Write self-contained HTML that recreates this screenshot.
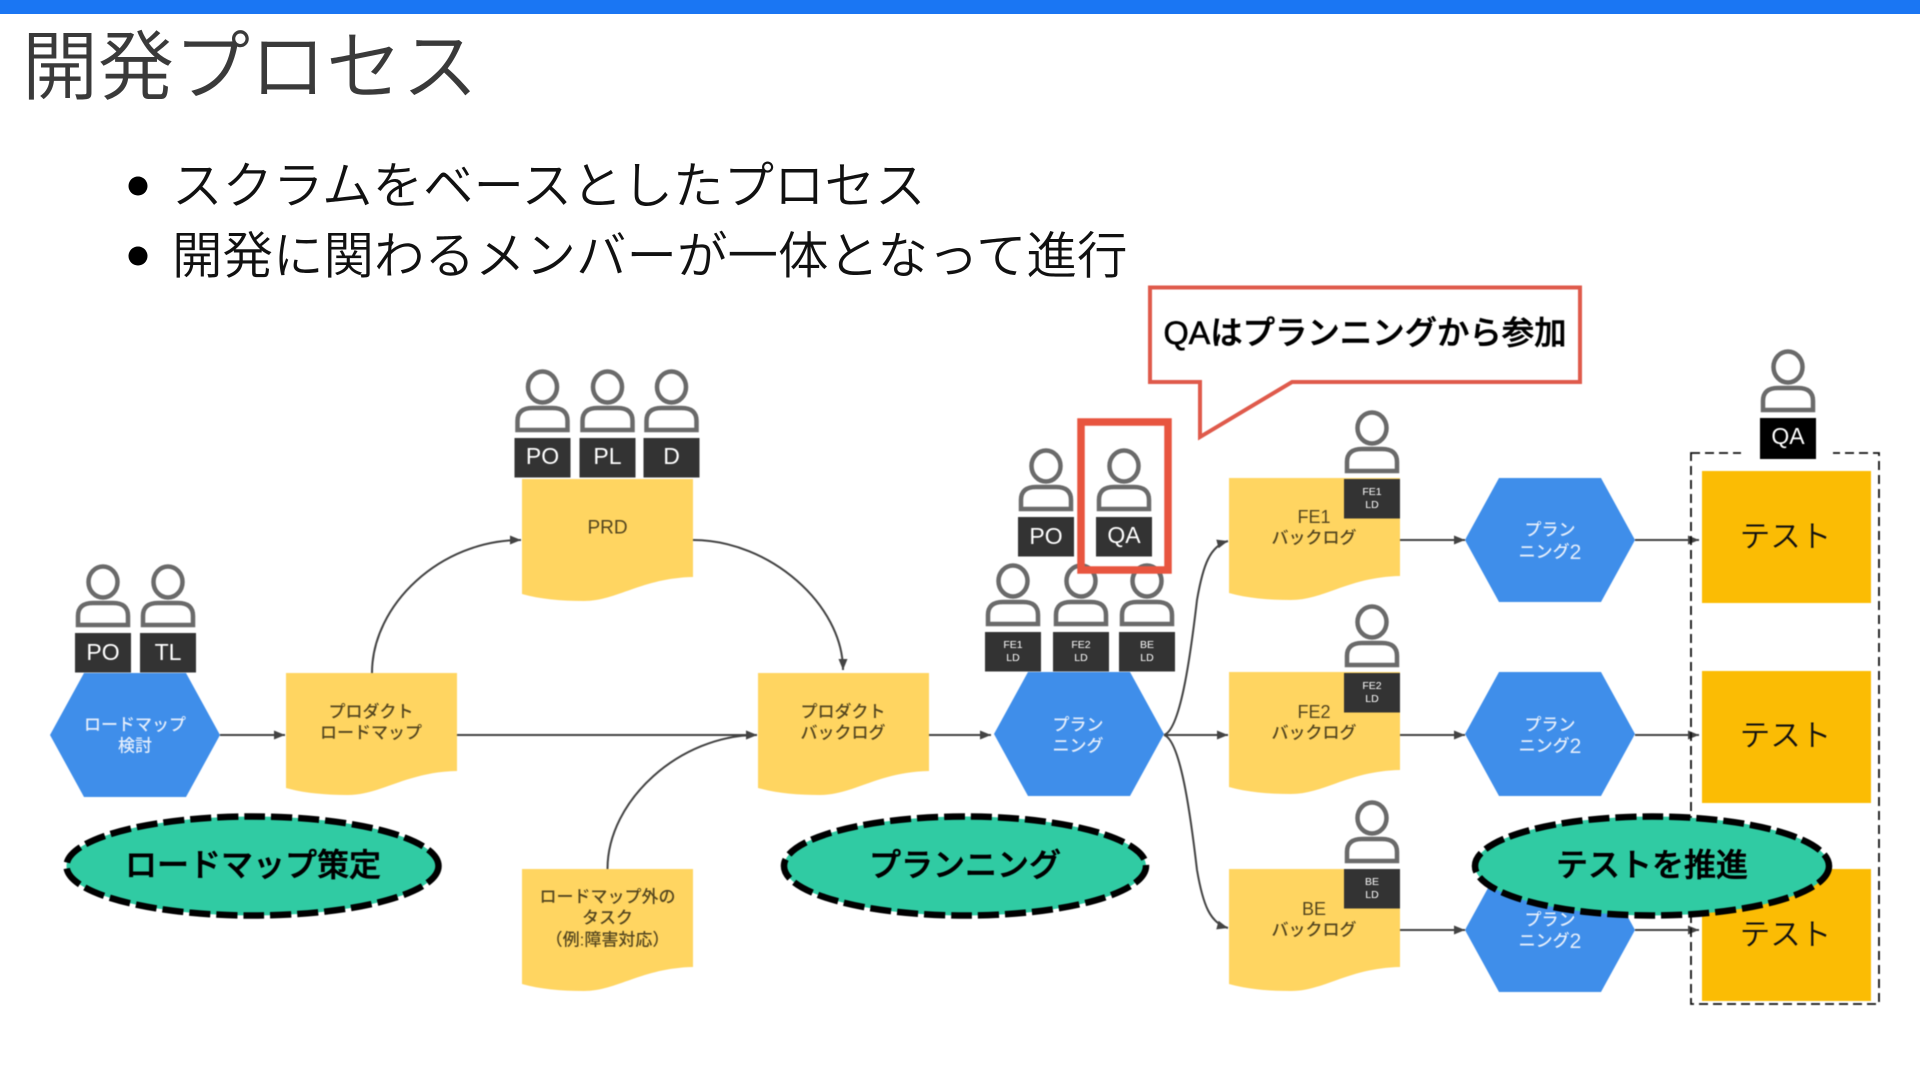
<!DOCTYPE html>
<html lang="ja"><head><meta charset="utf-8"><title>開発プロセス</title>
<style>
html,body{margin:0;padding:0;background:#fff;width:1920px;height:1080px;overflow:hidden}
svg{display:block}
text{font-family:"Liberation Sans","Noto Sans CJK JP",sans-serif;text-anchor:middle;dominant-baseline:central}
.l{text-anchor:start}
.b{fill:#fff;font-size:23px}
.s{fill:#fff;font-size:10.5px}
.d{fill:#54461f;font-size:17px;font-weight:500}
.h{fill:#e4eefc;font-size:17px;font-weight:500}
.h tspan{font-size:21px}
.t{fill:#111;font-size:30.500px;font-weight:350}
.e{fill:#000;font-size:32px;font-weight:500;stroke:#000;stroke-width:.6}
.line{fill:none;stroke:#434343;stroke-width:2}
.doc{fill:#ffd561}
.hex{fill:#3f8eea}
.test{fill:#fbbc04}
.ell{fill:#30cba3;stroke:#000;stroke-width:6.500;stroke-dasharray:21 6}
.dia{filter:blur(.4px)}
</style></head><body>
<svg width="1920" height="1080" viewBox="0 0 1920 1080" xmlns="http://www.w3.org/2000/svg">
<defs>
<marker id="a" markerUnits="userSpaceOnUse" markerWidth="12" markerHeight="10" refX="11" refY="5" orient="auto"><path d="M0 .5L11 5L0 9.500Z" fill="#434343"/></marker>
<g id="p"><ellipse cx="0" cy="-51" rx="14.500" ry="15.500" fill="#fff" stroke="#6a6a6a" stroke-width="4.500"/><path d="M-25-8V-17Q-25-30-10-30H10Q25-30 25-17V-8Z" fill="#fff" stroke="#6a6a6a" stroke-width="4.500"/><rect x="-28" y="0" width="56" height="39.500" fill="#333"/></g>
<path id="w" d="M0 0H171V98C120 99 95 122 62 122C38 122 18 120 0 115Z" class="doc"/>
<path id="x" d="M0 62L34 0H136L170 62L136 124H34Z" class="hex"/>
</defs>

<rect x="0" y="0" width="1920" height="14" fill="#1a76f3"/>
<text class="l" x="22" y="68" style="font-size:76px;font-weight:350;fill:#3a3a3a">開発プロセス</text>
<circle cx="138" cy="186" r="9.500" fill="#000"/>
<circle cx="138" cy="256" r="9.500" fill="#000"/>
<text class="l" x="172" y="186" style="font-size:50.500px;font-weight:350;fill:#111">スクラムをベースとしたプロセス</text>
<text class="l" x="172" y="256" style="font-size:50.500px;font-weight:350;fill:#111">開発に関わるメンバーが一体となって進行</text>

<g class="dia">
<!-- connectors -->
<path class="line" marker-end="url(#a)" d="M220 735H285"/>
<path class="line" marker-end="url(#a)" d="M457 735H757"/>
<path class="line" marker-end="url(#a)" d="M372 673C372 605 440 540 521 540"/>
<path class="line" marker-end="url(#a)" d="M693 540C770 540 843 605 843 670"/>
<path class="line" marker-end="url(#a)" d="M607.500 869C607.500 800 680 735 757 735"/>
<path class="line" marker-end="url(#a)" d="M929 735H991"/>
<path class="line" marker-end="url(#a)" d="M1164 735C1180 730 1190 660 1197 600C1203 565 1210 546 1228 541"/>
<path class="line" marker-end="url(#a)" d="M1164 735H1228"/>
<path class="line" marker-end="url(#a)" d="M1164 735C1180 740 1190 810 1197 870C1203 905 1210 923 1228 928"/>
<path class="line" marker-end="url(#a)" d="M1400 540H1465"/>
<path class="line" marker-end="url(#a)" d="M1400 735H1465"/>
<path class="line" marker-end="url(#a)" d="M1400 930H1465"/>
<path class="line" marker-end="url(#a)" d="M1635 540H1699"/>
<path class="line" marker-end="url(#a)" d="M1635 735H1699"/>
<path class="line" marker-end="url(#a)" d="M1635 930H1699"/>

<!-- documents -->
<use href="#w" x="286" y="673"/>
<use href="#w" x="522" y="479"/>
<use href="#w" x="758" y="673"/>
<use href="#w" x="522" y="869"/>
<use href="#w" x="1229" y="478"/>
<use href="#w" x="1229" y="672"/>
<use href="#w" x="1229" y="869"/>
<text class="d" x="371" y="712">プロダクト</text><text class="d" x="371" y="733">ロードマップ</text>
<text class="d" x="843" y="712">プロダクト</text><text class="d" x="843" y="733">バックログ</text>
<text class="d" x="607.500" y="528" style="font-size:19px">PRD</text>
<text class="d" x="607.500" y="897">ロードマップ外の</text><text class="d" x="607.500" y="918">タスク</text><text class="d" x="607.500" y="940">（例:障害対応）</text>
<text class="d" x="1314" y="517" style="font-size:18px">FE1</text><text class="d" x="1314" y="538">バックログ</text>
<text class="d" x="1314" y="712" style="font-size:18px">FE2</text><text class="d" x="1314" y="733">バックログ</text>
<text class="d" x="1314" y="909" style="font-size:18px">BE</text><text class="d" x="1314" y="930">バックログ</text>

<!-- hexagons -->
<use href="#x" x="50" y="673"/>
<use href="#x" x="994" y="672"/>
<use href="#x" x="1465" y="478"/>
<use href="#x" x="1465" y="672"/>
<use href="#x" x="1465" y="868"/>
<text class="h" x="135" y="725">ロードマップ</text><text class="h" x="135" y="746">検討</text>
<text class="h" x="1078" y="725">プラン</text><text class="h" x="1078" y="746">ニング</text>
<text class="h" x="1550" y="530">プラン</text><text class="h" x="1550" y="552">ニング<tspan>2</tspan></text>
<text class="h" x="1550" y="725">プラン</text><text class="h" x="1550" y="746">ニング<tspan>2</tspan></text>
<text class="h" x="1550" y="920">プラン</text><text class="h" x="1550" y="941">ニング<tspan>2</tspan></text>

<!-- tests -->
<rect x="1691" y="453" width="188" height="551" fill="none" stroke="#111" stroke-width="1.800" stroke-dasharray="9 5"/>
<rect x="1702" y="471" width="169" height="132" class="test"/>
<rect x="1702" y="671" width="169" height="132" class="test"/>
<rect x="1702" y="869" width="169" height="132" class="test"/>
<text class="t" x="1785.500" y="537">テスト</text>
<text class="t" x="1785.500" y="736">テスト</text>
<text class="t" x="1785.500" y="935">テスト</text>

<!-- people -->
<use href="#p" x="103" y="633"/><text class="b" x="103" y="652">PO</text>
<use href="#p" x="168" y="633"/><text class="b" x="168" y="652">TL</text>
<use href="#p" x="542.500" y="438"/><text class="b" x="542.500" y="456">PO</text>
<use href="#p" x="607.500" y="438"/><text class="b" x="607.500" y="456">PL</text>
<use href="#p" x="671.500" y="438"/><text class="b" x="671.500" y="456">D</text>
<use href="#p" x="1046" y="517"/><text class="b" x="1046" y="536">PO</text>
<use href="#p" x="1124" y="517"/><text class="b" x="1124" y="535">QA</text>
<use href="#p" x="1013" y="632"/><text class="s" x="1013" y="645">FE1</text><text class="s" x="1013" y="658">LD</text>
<use href="#p" x="1081" y="632"/><text class="s" x="1081" y="645">FE2</text><text class="s" x="1081" y="658">LD</text>
<use href="#p" x="1147" y="632"/><text class="s" x="1147" y="645">BE</text><text class="s" x="1147" y="658">LD</text>
<use href="#p" x="1372" y="479"/><text class="s" x="1372" y="492">FE1</text><text class="s" x="1372" y="505">LD</text>
<use href="#p" x="1372" y="673"/><text class="s" x="1372" y="686">FE2</text><text class="s" x="1372" y="699">LD</text>
<use href="#p" x="1372" y="869"/><text class="s" x="1372" y="882">BE</text><text class="s" x="1372" y="895">LD</text>
<rect x="1741" y="445" width="92" height="19" fill="#fff"/>
<use href="#p" x="1788" y="418"/><rect x="1760" y="418" width="56" height="41" fill="#000"/><text class="b" x="1788" y="436">QA</text>

<!-- highlight and callout -->
<rect x="1081" y="422" width="87" height="148" fill="none" stroke="#e8553f" stroke-width="7.500"/>
<path d="M1150 287.500H1580V382H1292L1200 437V382H1150Z" fill="#fff" stroke="#df5a4b" stroke-width="4"/>
<text class="e" x="1365" y="333" style="font-size:32.400px">QAはプランニングから参加</text>

<!-- ellipses -->
<ellipse class="ell" cx="252.500" cy="866" rx="186" ry="49.500"/>
<ellipse class="ell" cx="965" cy="866" rx="181" ry="49.500"/>
<ellipse class="ell" cx="1652" cy="866" rx="177" ry="49.500"/>
<text class="e" x="253" y="865">ロードマップ策定</text>
<text class="e" x="965" y="865">プランニング</text>
<text class="e" x="1652" y="865">テストを推進</text>
</g>
</svg>
</body></html>
